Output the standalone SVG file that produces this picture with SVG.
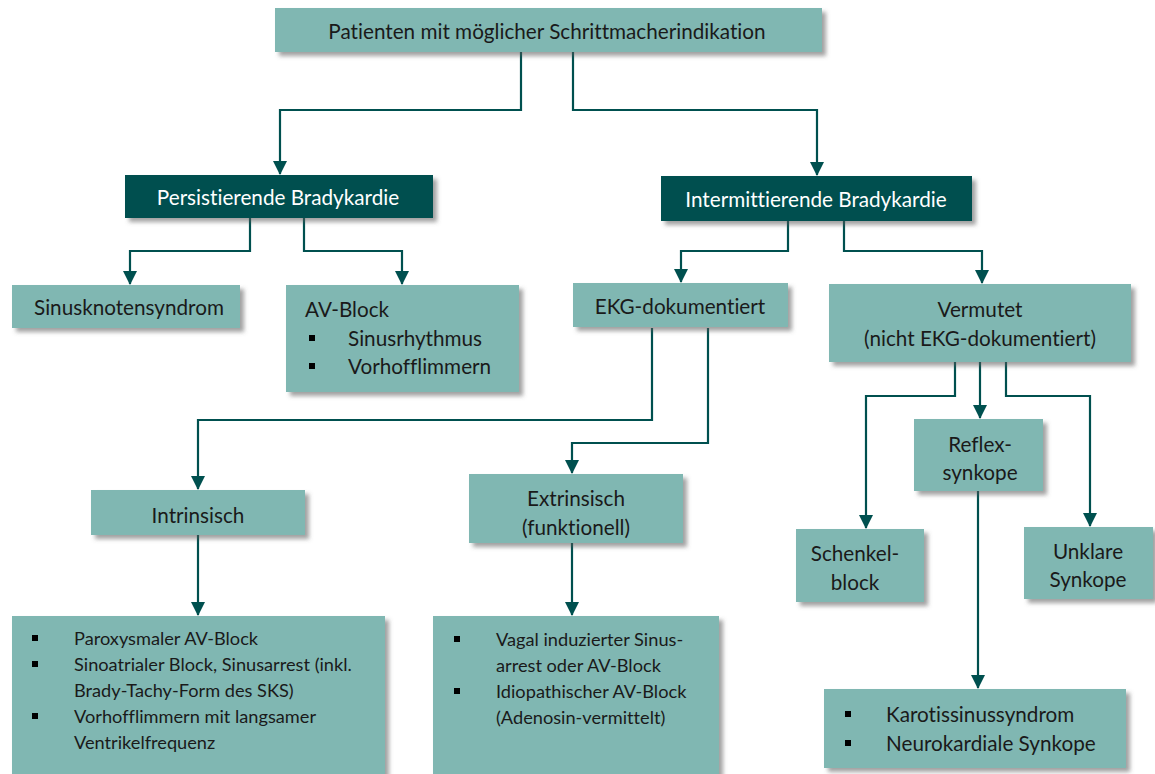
<svg xmlns="http://www.w3.org/2000/svg" width="1155" height="774" viewBox="0 0 1155 774">
<style>
.box{fill:#80B7B2;filter:url(#sh)}
.dark{fill:#00504F;filter:url(#sh)}
text{font-family:Lato,"Open Sans","Liberation Sans",sans-serif;font-size:20.7px;fill:#1a1a1a;dominant-baseline:central;font-variant-ligatures:none}
.c{text-anchor:middle}
.w{fill:#ffffff}
.s{font-size:18.2px}
.b{fill:#000}
.conn path{fill:none;stroke:#00504F;stroke-width:2.2;marker-end:url(#arr)}
</style>
<defs>
<filter id="sh" x="-10%" y="-10%" width="130%" height="140%">
<feDropShadow dx="4" dy="4" stdDeviation="2" flood-color="#555" flood-opacity="0.55"/>
</filter>
<marker id="arr" markerUnits="userSpaceOnUse" markerWidth="14" markerHeight="14" refX="13" refY="7" orient="auto" viewBox="0 0 14 14">
<path d="M0,0 L14,7 L0,14 z" fill="#00504F"/>
</marker>
</defs>
<rect width="1155" height="774" fill="#ffffff"/>
<g class="conn">
<path d="M521,52 V110 H280 V174"/>
<path d="M573,52 V110 H817 V175"/>
<path d="M250,218 V251 H130 V284"/>
<path d="M304,218 V251 H402 V284"/>
<path d="M788,221 V251 H681 V282"/>
<path d="M844,221 V251 H982 V283"/>
<path d="M652,328 V420 H198 V489"/>
<path d="M708,328 V443 H572 V473"/>
<path d="M198,535 V615"/>
<path d="M572,543 V615"/>
<path d="M955,362 V396 H866 V528"/>
<path d="M980,362 V418"/>
<path d="M1006,362 V396 H1090 V526"/>
<path d="M978,491 V688"/>
</g>
<g id="top"><rect class="box" x="275" y="8" width="547" height="44"/><text class="c" x="547" y="31">Patienten mit möglicher Schrittmacherindikation</text></g>
<g id="persistierend"><rect class="dark" x="125" y="175" width="308" height="43"/><text class="c w" x="278" y="197">Persistierende Bradykardie</text></g>
<g id="intermittierend"><rect class="dark" x="661" y="176" width="311" height="45"/><text class="c w" x="816" y="199">Intermittierende Bradykardie</text></g>
<g id="sinusknoten"><rect class="box" x="12" y="285" width="228" height="43"/><text class="c" x="129" y="307">Sinusknotensyndrom</text></g>
<g id="avblock"><rect class="box" x="286" y="285" width="233" height="107"/>
<text x="305" y="309">AV-Block</text>
<rect class="b" x="309" y="335" width="6" height="6"/><text x="348" y="338">Sinusrhythmus</text>
<rect class="b" x="309" y="363" width="6" height="6"/><text x="348" y="366">Vorhofflimmern</text></g>
<g id="ekg"><rect class="box" x="573" y="283" width="215" height="44"/><text class="c" x="680" y="306">EKG-dokumentiert</text></g>
<g id="vermutet"><rect class="box" x="829" y="284" width="302" height="78"/><text class="c" x="980" y="309">Vermutet</text><text class="c" x="980" y="338">(nicht EKG-dokumentiert)</text></g>
<g id="intrinsisch"><rect class="box" x="91" y="490" width="214" height="45"/><text class="c" x="198" y="515">Intrinsisch</text></g>
<g id="extrinsisch"><rect class="box" x="469" y="474" width="214" height="69"/><text class="c" x="576" y="498">Extrinsisch</text><text class="c" x="576" y="527">(funktionell)</text></g>
<g id="reflex"><rect class="box" x="914" y="419" width="129" height="72"/><text class="c" x="980" y="444">Reflex-</text><text class="c" x="980" y="472">synkope</text></g>
<g id="schenkel"><rect class="box" x="796" y="529" width="128" height="73"/><text class="c" x="855" y="553">Schenkel-</text><text class="c" x="855" y="582">block</text></g>
<g id="unklare"><rect class="box" x="1024" y="527" width="129" height="72"/><text class="c" x="1088" y="551">Unklare</text><text class="c" x="1088" y="579">Synkope</text></g>
<g id="intrinsisch-liste"><rect class="box" x="12" y="616" width="373" height="162"/>
<rect class="b" x="32" y="635" width="6" height="6"/><text class="s" x="74" y="638">Paroxysmaler AV-Block</text>
<rect class="b" x="32" y="661" width="6" height="6"/><text class="s" x="74" y="664">Sinoatrialer Block, Sinusarrest (inkl.</text>
<text class="s" x="74" y="690">Brady-Tachy-Form des SKS)</text>
<rect class="b" x="32" y="713" width="6" height="6"/><text class="s" x="74" y="716">Vorhofflimmern mit langsamer</text>
<text class="s" x="74" y="742">Ventrikelfrequenz</text></g>
<g id="extrinsisch-liste"><rect class="box" x="433" y="616" width="286" height="162"/>
<rect class="b" x="454" y="636" width="6" height="6"/><text class="s" x="496" y="639">Vagal induzierter Sinus-</text>
<text class="s" x="496" y="665">arrest oder AV-Block</text>
<rect class="b" x="454" y="688" width="6" height="6"/><text class="s" x="496" y="691">Idiopathischer AV-Block</text>
<text class="s" x="496" y="717">(Adenosin-vermittelt)</text></g>
<g id="karotis"><rect class="box" x="824" y="689" width="302" height="79"/>
<rect class="b" x="845" y="711" width="6" height="6"/><text x="886" y="714">Karotissinussyndrom</text>
<rect class="b" x="845" y="740" width="6" height="6"/><text x="886" y="743">Neurokardiale Synkope</text></g>
</svg>
